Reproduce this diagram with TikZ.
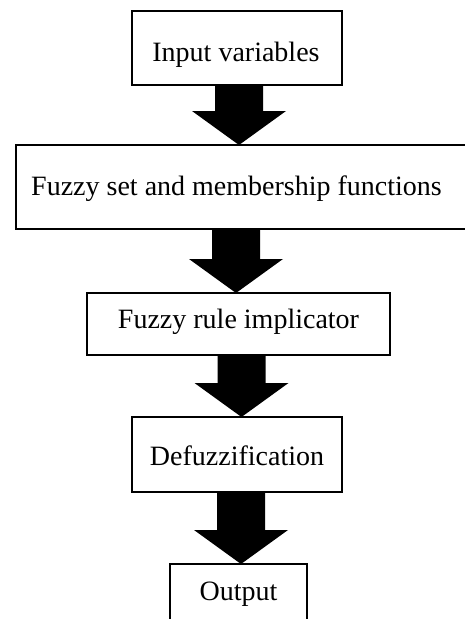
\documentclass[tikz,border=0pt]{standalone}
\usepackage{fontspec}
\setmainfont{Liberation Serif}
\usetikzlibrary{calc}
\tikzset{
  box/.style={draw=black, line width=1.5pt, fill=white, minimum width=#1, inner sep=0pt, outer sep=0pt},
  lbl/.style={anchor=base, inner sep=0pt, font=\fontsize{28}{33}\selectfont},
}
% #1 upper box, #2 lower box, #3 horizontal offset of the arrow axis
\newcommand\blkarrow[3]{%
  \fill[black] let \p1=($(#1.south)+(#3,0)$), \p2=(#2.north) in
    (\x1-24pt,\y1) -- (\x1+24pt,\y1) -- (\x1+24pt,\y2+34pt) -- (\x1+47pt,\y2+34pt)
    -- (\x1,\y2) -- (\x1-47pt,\y2+34pt) -- (\x1-24pt,\y2+34pt) -- cycle;}
\begin{document}
\begin{tikzpicture}[x=1pt,y=-1pt]
  \useasboundingbox (0,0) rectangle (465,619);
  \clip (0,0) rectangle (465,619);
  \fill[white] (0,0) rectangle (465,619);
  % boxes
  \node[box=480pt, minimum height=84pt] (b2) at (256,187) {};
  \node[box=210pt, minimum height=74pt] (b1) at (237,48) {};
  \node[box=303pt, minimum height=62pt] (b3) at (238.5,324) {};
  \node[box=210pt, minimum height=75pt] (b4) at (237,454.5) {};
  \node[box=137pt, minimum height=90pt] (b5) at (238.5,609) {};
  % texts
  \node[lbl] (t1) at (236,61) {Input variables};
  \node[lbl] (t2) at (236.5,195) {Fuzzy set and membership functions};
  \node[lbl] (t3) at (238.5,328) {Fuzzy rule implicator};
  \node[lbl] (t4) at (237,465) {Defuzzification};
  \node[lbl] (t5) at (238.5,600) {Output};
  % block arrows
  \blkarrow{b1}{b2}{2}
  \blkarrow{b2}{b3}{-20}
  \blkarrow{b3}{b4}{3}
  \blkarrow{b4}{b5}{4}
\end{tikzpicture}
\end{document}
